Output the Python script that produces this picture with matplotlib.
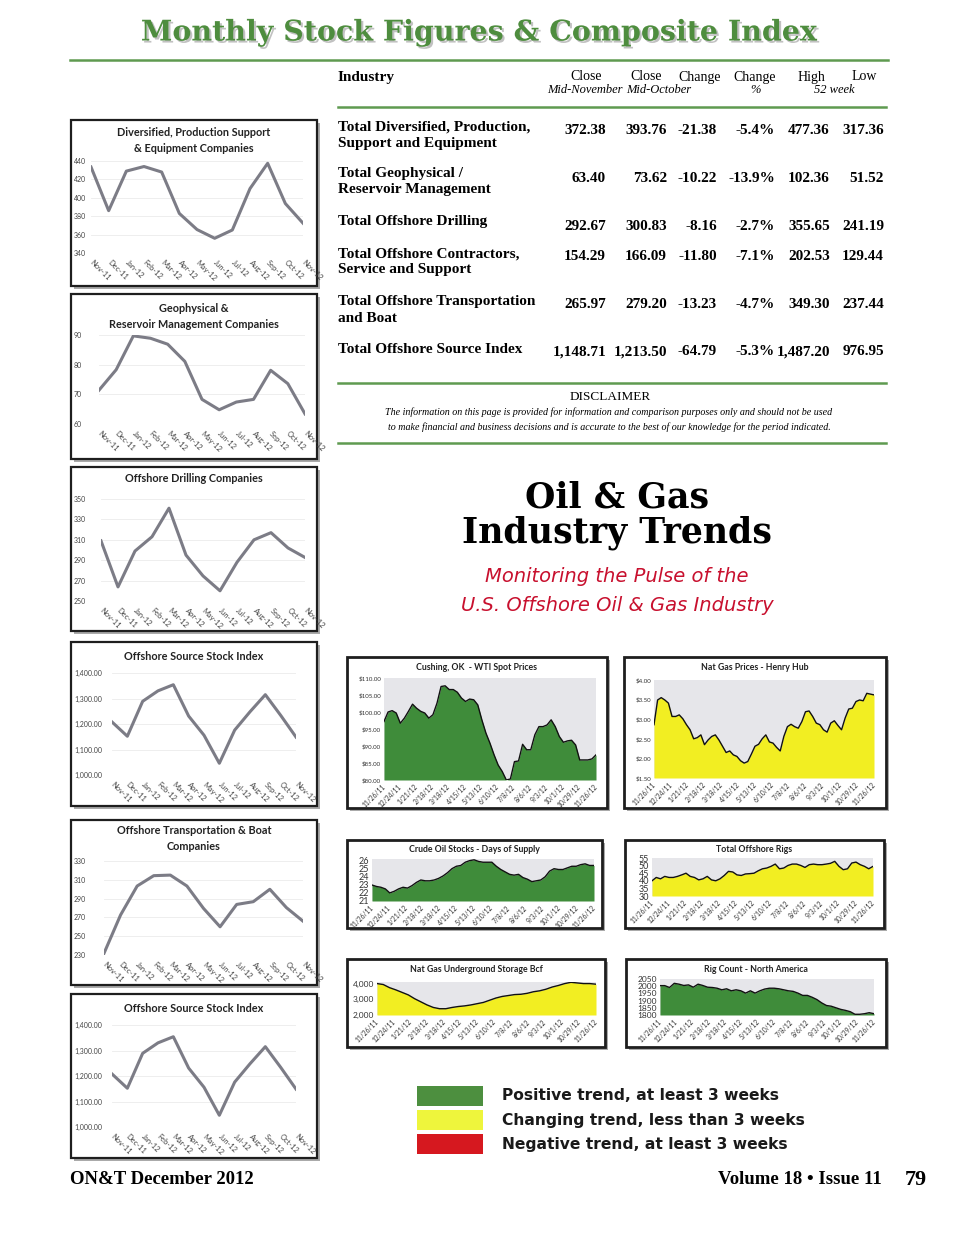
import numpy as np
import matplotlib.pyplot as plt
from matplotlib.patches import Rectangle
import matplotlib.patheffects as pe

# ---- data : monthly stock figures ----
months = ['Nov-11', 'Dec-11', 'Jan-12', 'Feb-12', 'Mar-12', 'Apr-12', 'May-12',
          'Jun-12', 'Jul-12', 'Aug-12', 'Sep-12', 'Oct-12', 'Nov-12']
diversified = [433.5, 386, 429, 434, 428, 383, 365.5, 356, 365, 410, 437.5, 393.8, 372.4]
geophysical = [71.4, 78.3, 89.7, 88.9, 86.9, 81.1, 68.3, 64.8, 67.4, 68.3, 78.1, 73.6, 63.4]
drilling = [309, 263.8, 299, 313, 341, 295, 274.6, 260, 288, 310, 317, 302, 292.7]
source_index = [1208, 1152, 1289, 1330, 1354, 1231, 1156, 1046, 1176, 1248, 1315, 1234, 1148.7]
transport = [231.8, 272.6, 303.4, 314.4, 315, 303.4, 279.6, 260, 283.8, 286.7, 299.9, 280.4, 266]

table_rows = [['Total Diversified, Production,', 'Support and Equipment'],
              ['Total Geophysical /', 'Reservoir Management'],
              ['Total Offshore Drilling'],
              ['Total Offshore Contractors,', 'Service and Support'],
              ['Total Offshore Transportation', 'and Boat'],
              ['Total Offshore Source Index']]
close_nov = ['372.38', '63.40', '292.67', '154.29', '265.97', '1,148.71']
close_oct = ['393.76', '73.62', '300.83', '166.09', '279.20', '1,213.50']
change = ['-21.38', '-10.22', '-8.16', '-11.80', '-13.23', '-64.79']
change_pct = ['-5.4%', '-13.9%', '-2.7%', '-7.1%', '-4.7%', '-5.3%']
high52 = ['477.36', '102.36', '355.65', '202.53', '349.30', '1,487.20']
low52 = ['317.36', '51.52', '241.19', '129.44', '237.44', '976.95']

# ---- data : industry trends (weekly) ----
dates = ['11/26/11', '12/24/11', '1/21/12', '2/18/12', '3/18/12', '4/15/12', '5/13/12',
         '6/10/12', '7/8/12', '8/6/12', '9/3/12', '10/1/12', '10/29/12', '11/26/12']
wti = [97.2, 100, 100.4, 99.7, 96.7, 98.2, 100.2, 102.3, 101.1, 100.2, 99.7, 98.2, 99.2,
       102.6, 107.5, 107.7, 106.6, 106.6, 105.8, 104.1, 103.1, 103.8, 103.6, 102.1, 97.7,
       93.8, 90.8, 87.4, 84.4, 82.5, 80.0, 80.3, 85.4, 85.6, 90.5, 88.9, 88.9, 93.3, 95.7,
       95.7, 96.2, 97.7, 95.7, 92.8, 91.1, 91.5, 91.7, 90.3, 85.9, 85.9, 85.9, 86.2, 87.4]
natgas = [2.86, 3.49, 3.55, 3.49, 3.41, 3.07, 3.07, 3.11, 3.01, 2.86, 2.73, 2.50, 2.53,
          2.60, 2.35, 2.47, 2.56, 2.60, 2.47, 2.31, 2.15, 2.19, 2.09, 2.05, 1.94, 1.88,
          1.92, 2.11, 2.31, 2.36, 2.50, 2.60, 2.42, 2.39, 2.28, 2.19, 2.56, 2.81, 2.87,
          2.81, 2.77, 2.94, 3.19, 3.21, 3.07, 2.90, 2.86, 2.73, 2.67, 2.90, 2.96, 2.84,
          2.73, 3.03, 3.26, 3.28, 3.45, 3.49, 3.47, 3.66, 3.64, 3.62]
crude_days = [22.98, 22.8, 22.7, 22.5, 22.0, 22.2, 22.5, 22.7, 22.6, 22.9, 23.3, 23.6, 23.5,
              23.5, 23.6, 23.8, 24.1, 24.5, 25.0, 25.3, 25.4, 25.8, 26.0, 26.1, 25.9, 25.8,
              25.8, 25.8, 25.3, 24.9, 24.6, 24.3, 24.2, 24.3, 23.9, 23.7, 23.4, 23.5, 23.6,
              24.0, 24.7, 25.0, 24.9, 24.9, 25.1, 25.3, 25.3, 25.5, 25.6, 25.4, 25.4]
offshore_rigs = [40.0, 42.2, 41.3, 42.9, 42.2, 42.2, 42.9, 43.9, 45.0, 42.9, 42.2, 40.6, 41.3,
                 42.9, 40.6, 40.0, 41.3, 43.5, 46.2, 45.8, 43.9, 43.5, 44.5, 44.7, 45.0, 46.6,
                 47.9, 48.4, 49.5, 51.0, 47.9, 48.4, 50.1, 51.0, 51.0, 50.1, 48.8, 50.6, 51.0,
                 50.6, 50.6, 51.0, 51.5, 52.8, 49.5, 47.3, 47.9, 51.7, 52.3, 50.6, 49.5, 47.9, 49.5]
storage = [4000, 3940, 3740, 3600, 3440, 3280, 3040, 2840, 2640, 2480, 2400, 2400, 2480,
           2540, 2580, 2640, 2720, 2800, 2940, 3080, 3180, 3240, 3300, 3320, 3380, 3480,
           3540, 3640, 3780, 3880, 4000, 4080, 4040, 4000, 4000, 3960]
rig_count = [2004, 2004, 1991, 2020, 2014, 2005, 2009, 1993, 2014, 2005, 1993, 1991, 1986,
             1975, 1982, 1968, 1975, 1968, 1952, 1968, 1952, 1968, 1980, 1986, 1986, 1982,
             1975, 1968, 1964, 1952, 1936, 1936, 1923, 1907, 1884, 1866, 1861, 1850, 1839,
             1832, 1823, 1805, 1805, 1809, 1816, 1809]

legend_labels = ['Positive trend, at least 3 weeks', 'Changing trend, less than 3 weeks',
                 'Negative trend, at least 3 weeks']
legend_colors = ['#4d8f3f', '#eef53c', '#d6181f']

GREEN = '#4e8d3e'
W, H = 960, 1245
fig = plt.figure(figsize=(9.6, 12.45), dpi=100)
fig.patch.set_facecolor('white')


def fx(x):
    return x / W


def fy(y):
    return 1 - y / H


def rect(x0, y0, x1, y1):
    return [fx(x0), fy(y1), (x1 - x0) / W, (y1 - y0) / H]


def box(x0, y0, x1, y1, lw=1.6):
    fig.patches.append(Rectangle((fx(x0 + 3), fy(y1 + 3)), (x1 - x0) / W, (y1 - y0) / H,
                                 transform=fig.transFigure, fc='#aaaaaa', ec='none', zorder=-2))
    fig.patches.append(Rectangle((fx(x0), fy(y1)), (x1 - x0) / W, (y1 - y0) / H,
                                 transform=fig.transFigure, fc='white', ec='#1e1e1e',
                                 lw=lw, zorder=-1))


def hline(y, x0, x1):
    fig.add_artist(plt.Line2D([fx(x0), fx(x1)], [fy(y), fy(y)], color='#5f9a50', lw=1.8))


def txt(x, y, s, **kw):
    fig.text(fx(x), fy(y), s, **kw)


# ---- header and table ----
txt(479, 33, 'Monthly Stock Figures & Composite Index', ha='center', va='center',
    family='DejaVu Serif', weight='bold', fontsize=20.5, color=GREEN,
    path_effects=[pe.withSimplePatchShadow(offset=(1.5, -1.5), shadow_rgbFace='#999999', alpha=0.6)])
hline(60, 70, 888)
hline(107, 338, 886)
hline(383, 338, 886)
hline(443, 338, 886)

serif = 'Liberation Serif'
txt(338, 77, 'Industry', ha='left', va='center', family=serif, weight='bold', fontsize=11)
for x, s in zip([586, 646, 700, 755, 811, 864], ['Close', 'Close', 'Change', 'Change', 'High', 'Low']):
    txt(x, 77, s, ha='center', va='center', family=serif, fontsize=10)
for x, s in zip([585, 659, 755, 834], ['Mid-November', 'Mid-October', '%', '52 week']):
    txt(x, 90, s, ha='center', va='center', family=serif, fontsize=9, style='italic')

label_y = [127, 174, 222, 254, 302, 349]
value_y = [130, 178, 226, 257, 305, 352]
col_right = [606, 667, 717, 775, 830, 884]
for i, lines in enumerate(table_rows):
    for j, line in enumerate(lines):
        txt(338, label_y[i] + 16 * j, line, ha='left', va='center', family=serif,
            weight='bold', fontsize=11)
    for x, col in zip(col_right, [close_nov, close_oct, change, change_pct, high52, low52]):
        txt(x, value_y[i], col[i], ha='right', va='center', family=serif, weight='bold', fontsize=11)

txt(610, 397, 'DISCLAIMER', ha='center', va='center', family=serif, fontsize=9.5)
txt(609, 412, 'The information on this page is provided for information and comparison purposes '
    'only and should not be used', ha='center', va='center', family=serif, style='italic', fontsize=7.2)
txt(609, 427, 'to make financial and business decisions and is accurate to the best of our '
    'knowledge for the period indicated.', ha='center', va='center', family=serif, style='italic', fontsize=7.2)

txt(617, 497, 'Oil & Gas', ha='center', va='center', family='DejaVu Serif', weight='bold', fontsize=25)
txt(617, 533, 'Industry Trends', ha='center', va='center', family='DejaVu Serif', weight='bold', fontsize=25)
txt(617, 577, 'Monitoring the Pulse of the', ha='center', va='center', family='DejaVu Sans',
    style='italic', fontsize=14, color='#c8102e')
txt(617, 606, 'U.S. Offshore Oil & Gas Industry', ha='center', va='center', family='DejaVu Sans',
    style='italic', fontsize=14, color='#c8102e')


# ---- left column: monthly line charts ----
def line_chart(vals, frame, title, title_y, x0, x1, ytop, ybot, ymin, ymax, step, fmt):
    box(*frame)
    for k, t in enumerate(title):
        txt((frame[0] + frame[2]) / 2, title_y + 15 * k, t, ha='center', va='center',
            family='Lato', weight='bold', fontsize=7.8, color='#222222')
    ax = fig.add_axes(rect(x0, ytop, x1, ybot))
    ax.set_facecolor('none')
    ax.plot(range(len(vals)), vals, color='#7c7c86', lw=2.2, solid_joinstyle='round')
    ax.set_xlim(0, len(vals) - 1)
    ax.set_ylim(ymin, ymax)
    ticks = np.arange(ymin, ymax + step / 2, step)
    ax.set_yticks(ticks)
    ax.set_yticklabels([fmt.format(t) for t in ticks], family='Lato', ha='left')
    ax.set_xticks(range(len(months)))
    ax.set_xticklabels(months, rotation=-45, ha='left', va='center', rotation_mode='anchor',
                       family='Lato')
    for s in ax.spines.values():
        s.set_visible(False)
    ax.tick_params(length=0, colors='#444444')
    # y labels start near the left edge of the frame
    ax.tick_params(axis='y', labelsize=5, pad=(x0 - frame[0] - 3) * 0.72)
    ax.tick_params(axis='x', labelsize=5.4, pad=6)
    ax.grid(axis='y', color='#ebebeb', lw=0.6)
    ax.set_axisbelow(True)


line_chart(diversified, (71, 120, 317, 286), ['Diversified, Production Support', '& Equipment Companies'],
           133, 91, 303, 161, 253, 340, 440, 20, '{:.0f}')
line_chart(geophysical, (71, 294, 317, 459), ['Geophysical &', 'Reservoir Management Companies'],
           309, 99, 305, 335, 424, 60, 90, 10, '{:.0f}')
line_chart(drilling, (71, 467, 317, 631), ['Offshore Drilling Companies'],
           479, 101, 305, 499, 601, 250, 350, 20, '{:.0f}')
line_chart(source_index, (71, 642, 317, 806), ['Offshore Source Stock Index'],
           656, 112, 296, 673, 775, 1000, 1400, 100, '{:,.2f}')
line_chart(transport, (71, 820, 317, 985), ['Offshore Transportation & Boat', 'Companies'],
           831, 104, 303, 861, 955, 230, 330, 20, '{:.0f}')
line_chart(source_index, (71, 994, 317, 1158), ['Offshore Source Stock Index'],
           1008, 112, 296, 1025, 1127, 1000, 1400, 100, '{:,.2f}')


# ---- right side: weekly area charts ----
def area_chart(vals, frame, title, x0, x1, ytop, ybot, ymin, ymax, ticks, fmt, color, ysize):
    box(*frame, lw=2.0)
    txt((frame[0] + frame[2]) / 2, frame[1] + 10, title, ha='center', va='center',
        family='Lato', weight='bold', fontsize=6.3, color='#222222')
    ax = fig.add_axes(rect(x0, ytop, x1, ybot))
    ax.set_facecolor('#e6e6ea')
    x = np.arange(len(vals))
    ax.fill_between(x, ymin, vals, color=color, lw=0)
    ax.plot(x, vals, color='#111111', lw=1.0)
    ax.set_xlim(0, len(vals) - 1)
    ax.set_ylim(ymin, ymax)
    ax.set_yticks(ticks)
    ax.set_yticklabels([fmt.format(t) for t in ticks], family='Lato')
    ax.set_xticks(np.linspace(0, len(vals) - 1, len(dates)))
    ax.set_xticklabels(dates, rotation=45, ha='right', va='center', rotation_mode='anchor',
                       family='Lato', fontsize=4.8)
    for s in ax.spines.values():
        s.set_visible(False)
    ax.tick_params(length=0, colors='#333333', pad=2)
    ax.tick_params(axis='y', labelsize=ysize)
    ax.tick_params(axis='x', pad=4)


area_chart(wti, (347, 657, 607, 808), 'Cushing, OK  - WTI Spot Prices', 384, 596, 678, 780,
           80, 110, np.arange(80, 111, 5), '${:.2f}', '#3f8c3a', 4.4)
area_chart(natgas, (624, 657, 886, 808), 'Nat Gas Prices - Henry Hub', 654, 874, 680, 778,
           1.5, 4.0, np.arange(1.5, 4.01, 0.5), '${:.2f}', '#f2ee22', 4.4)
area_chart(crude_days, (347, 840, 602, 928), 'Crude Oil Stocks - Days of Supply', 372, 594, 859, 901,
           21, 26.2, np.arange(21, 27, 1), '{:.0f}', '#3f8c3a', 6.5)
area_chart(offshore_rigs, (625, 840, 884, 928), 'Total Offshore Rigs', 652, 873, 858, 896,
           30, 55, np.arange(30, 56, 5), '{:.0f}', '#f2ee22', 6.5)
area_chart(storage, (347, 959, 605, 1047), 'Nat Gas Underground Storage Bcf', 377, 596, 982, 1015,
           2000, 4100, [2000, 3000, 4000], '{:,.0f}', '#f2ee22', 6.0)
area_chart(rig_count, (626, 959, 886, 1047), 'Rig Count - North America', 660, 874, 979, 1015,
           1800, 2050, np.arange(1800, 2051, 50), '{:.0f}', '#3f8c3a', 6.0)

# ---- legend ----
for k, (lab, col) in enumerate(zip(legend_labels, legend_colors)):
    y0 = 1086 + 24 * k
    fig.patches.append(Rectangle((fx(417), fy(y0 + 20)), 66 / W, 20 / H,
                                 transform=fig.transFigure, fc=col, ec='none'))
    txt(502, y0 + 10, lab, ha='left', va='center', family='DejaVu Sans', weight='bold',
        fontsize=11.2, color='#1a1a1a')

# ---- footer ----
txt(70, 1180, 'ON&T December 2012', ha='left', va='center', family=serif, weight='bold', fontsize=13.5)
txt(882, 1180, 'Volume 18 \u2022 Issue 11', ha='right', va='center', family=serif, weight='bold', fontsize=13.5)
txt(905, 1180, '79', ha='left', va='center', family=serif, weight='bold', fontsize=16)

fig.savefig('out.png', dpi=100)
